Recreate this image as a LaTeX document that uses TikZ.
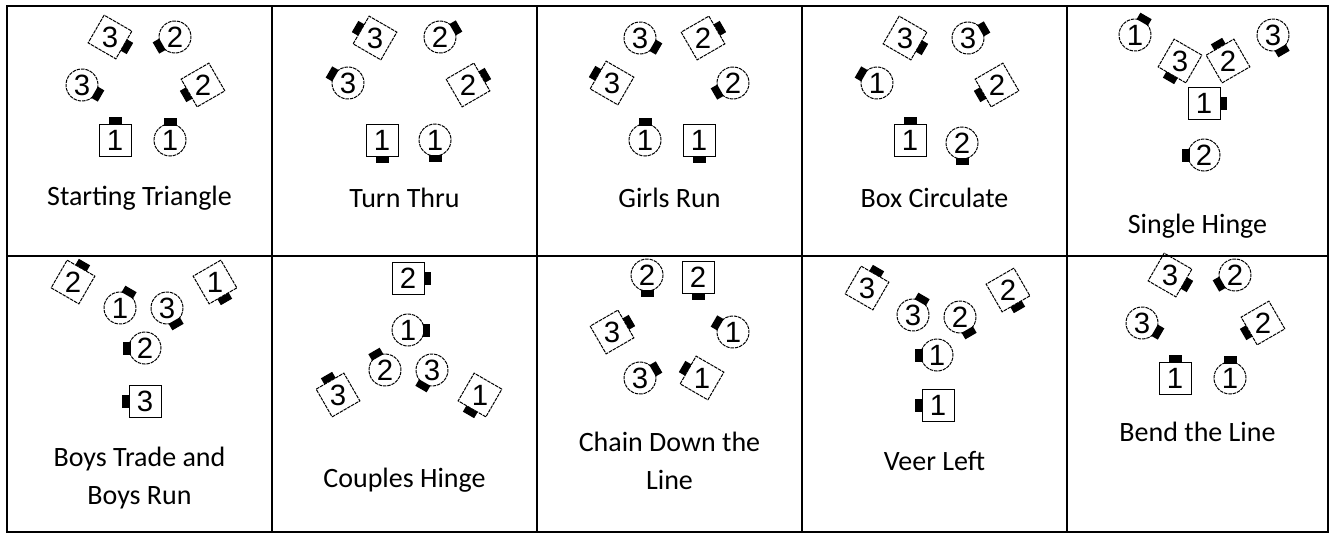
\documentclass[tikz,border=0pt]{standalone}
\usepackage{fontspec}
\setmainfont{Carlito}
\newfontfamily\numfont{Liberation Sans}
\tikzset{
  gridline/.style={line width=1.1pt, black},
  dancer/.style={line width=0.75pt, black},
  rdash/.style={dash pattern=on 2.6pt off 0.7pt},
  nosefill/.style={fill=black},
  num/.style={font=\numfont\fontsize{22}{22}\selectfont, inner sep=0pt},
  lbl/.style={font=\fontsize{21}{28.5}\selectfont, align=center, inner sep=0pt},
}
% #1 name, #2 x, #3 y, #4 number, #5 facing angle, #6 extra line style
\newcommand\boy[6]{%
  \begin{scope}[shift={(#2,#3)}, rotate=#5]
    \fill[nosefill] (16,-6.5) rectangle (23,6.5);
    \draw[dancer,#6] (-16,-16) rectangle (16,16);
  \end{scope}
  \node[num] (#1) at (#2,#3) {#4};}
\newcommand\girl[5]{%
  \begin{scope}[shift={(#2,#3)}, rotate=#5]
    \fill[nosefill] (14.5,-6.5) rectangle (22,6.5);
    \draw[dancer,rdash] (0,0) circle (16);
  \end{scope}
  \node[num] (#1) at (#2,#3) {#4};}
\begin{document}
\begin{tikzpicture}[x=0.75pt,y=-0.75pt]
\useasboundingbox (0,0) rectangle (1330,539);
% table
\draw[gridline] (7,6) rectangle (1328,532);
\draw[gridline] (7,256) -- (1328,256);
\foreach \x in {272,537,802,1067} \draw[gridline] (\x,6) -- (\x,532);

% 1 Starting Triangle
\boy{a-b3}{110}{37}{3}{-30}{rdash}
\girl{a-g2}{175}{37}{2}{210}
\girl{a-g3}{82}{85}{3}{-30}
\boy{a-b2}{203}{85}{2}{210}{rdash}
\boy{a-b1}{115}{140}{1}{90}{}
\girl{a-g1}{170}{140}{1}{90}
\node[lbl] (a-t) at (139.5,198) {Starting Triangle};

% 2 Turn Thru
\boy{b-b3}{375}{38}{3}{150}{rdash}
\girl{b-g2}{440}{37}{2}{30}
\girl{b-g3}{348}{83}{3}{150}
\boy{b-b2}{468}{85}{2}{30}{rdash}
\boy{b-b1}{382}{140}{1}{270}{}
\girl{b-g1}{435}{140}{1}{270}
\node[lbl] (b-t) at (404.5,198) {Turn Thru};

% 3 Girls Run
\girl{c-g3}{640}{38}{3}{-30}
\boy{c-b2}{703}{38}{2}{30}{rdash}
\boy{c-b3}{612}{83}{3}{150}{rdash}
\girl{c-g2}{733}{83}{2}{210}
\girl{c-g1}{645}{140}{1}{90}
\boy{c-b1}{699}{140}{1}{270}{}
\node[lbl] (c-t) at (669.5,198) {Girls Run};

% 4 Box Circulate
\boy{d-b3}{905}{38}{3}{-30}{rdash}
\girl{d-g3}{968}{38}{3}{30}
\girl{d-g1}{877}{83}{1}{150}
\boy{d-b2}{997}{85}{2}{210}{rdash}
\boy{d-b1}{910}{140}{1}{90}{}
\girl{d-g2}{962}{143}{2}{270}
\node[lbl] (d-t) at (934.5,198) {Box Circulate};

% 5 Single Hinge
\girl{e-g1}{1135}{35}{1}{60}
\girl{e-g3}{1273}{35}{3}{-60}
\boy{e-b3}{1180}{61}{3}{240}{rdash}
\boy{e-b2}{1228}{61}{2}{120}{rdash}
\boy{e-b1}{1204}{103}{1}{0}{}
\girl{e-g2}{1204}{155}{2}{180}
\node[lbl] (e-t) at (1197.5,226) {Single Hinge};

% 6 Boys Trade and Boys Run
\boy{f-b2}{73}{282}{2}{60}{rdash}
\girl{f-g1}{120}{308}{1}{60}
\girl{f-g3}{167}{308}{3}{-60}
\boy{f-b1}{215}{282}{1}{-60}{rdash}
\girl{f-g2}{145}{348}{2}{180}
\boy{f-b3}{145}{401}{3}{180}{}
\node[lbl] (f-t) at (139.5,478) {Boys Trade and\\Boys Run};

% 7 Couples Hinge
\boy{g-b2}{408}{278}{2}{0}{}
\girl{g-g1}{408}{330}{1}{0}
\girl{g-g2}{385}{370}{2}{120}
\girl{g-g3}{432}{370}{3}{240}
\boy{g-b3}{338}{395}{3}{120}{rdash}
\boy{g-b1}{480}{395}{1}{240}{rdash}
\node[lbl] (g-t) at (404.5,480) {Couples Hinge};

% 8 Chain Down the Line
\girl{h-g2}{647}{275}{2}{270}
\boy{h-b2}{698}{277}{2}{270}{}
\boy{h-b3}{612}{332}{3}{30}{rdash}
\girl{h-g1}{733}{332}{1}{150}
\girl{h-g3}{640}{378}{3}{30}
\boy{h-b1}{702}{378}{1}{150}{rdash}
\node[lbl] (h-t) at (669.5,461) {Chain Down the\\Line};

% 9 Veer Left
\boy{i-b3}{867}{288}{3}{60}{rdash}
\girl{i-g3}{913}{315}{3}{60}
\girl{i-g2}{960}{317}{2}{-60}
\boy{i-b2}{1008}{290}{2}{-60}{rdash}
\girl{i-g1}{937}{355}{1}{180}
\boy{i-b1}{938}{405}{1}{180}{}
\node[lbl] (i-t) at (934.5,461) {Veer Left};

% 10 Bend the Line
\boy{j-b3}{1170}{275}{3}{-30}{rdash}
\girl{j-g2}{1235}{275}{2}{210}
\girl{j-g3}{1142}{323}{3}{-30}
\boy{j-b2}{1263}{323}{2}{210}{rdash}
\boy{j-b1}{1175}{378}{1}{90}{}
\girl{j-g1}{1230}{378}{1}{90}
\node[lbl] (j-t) at (1197.5,432) {Bend the Line};
\end{tikzpicture}
\end{document}
